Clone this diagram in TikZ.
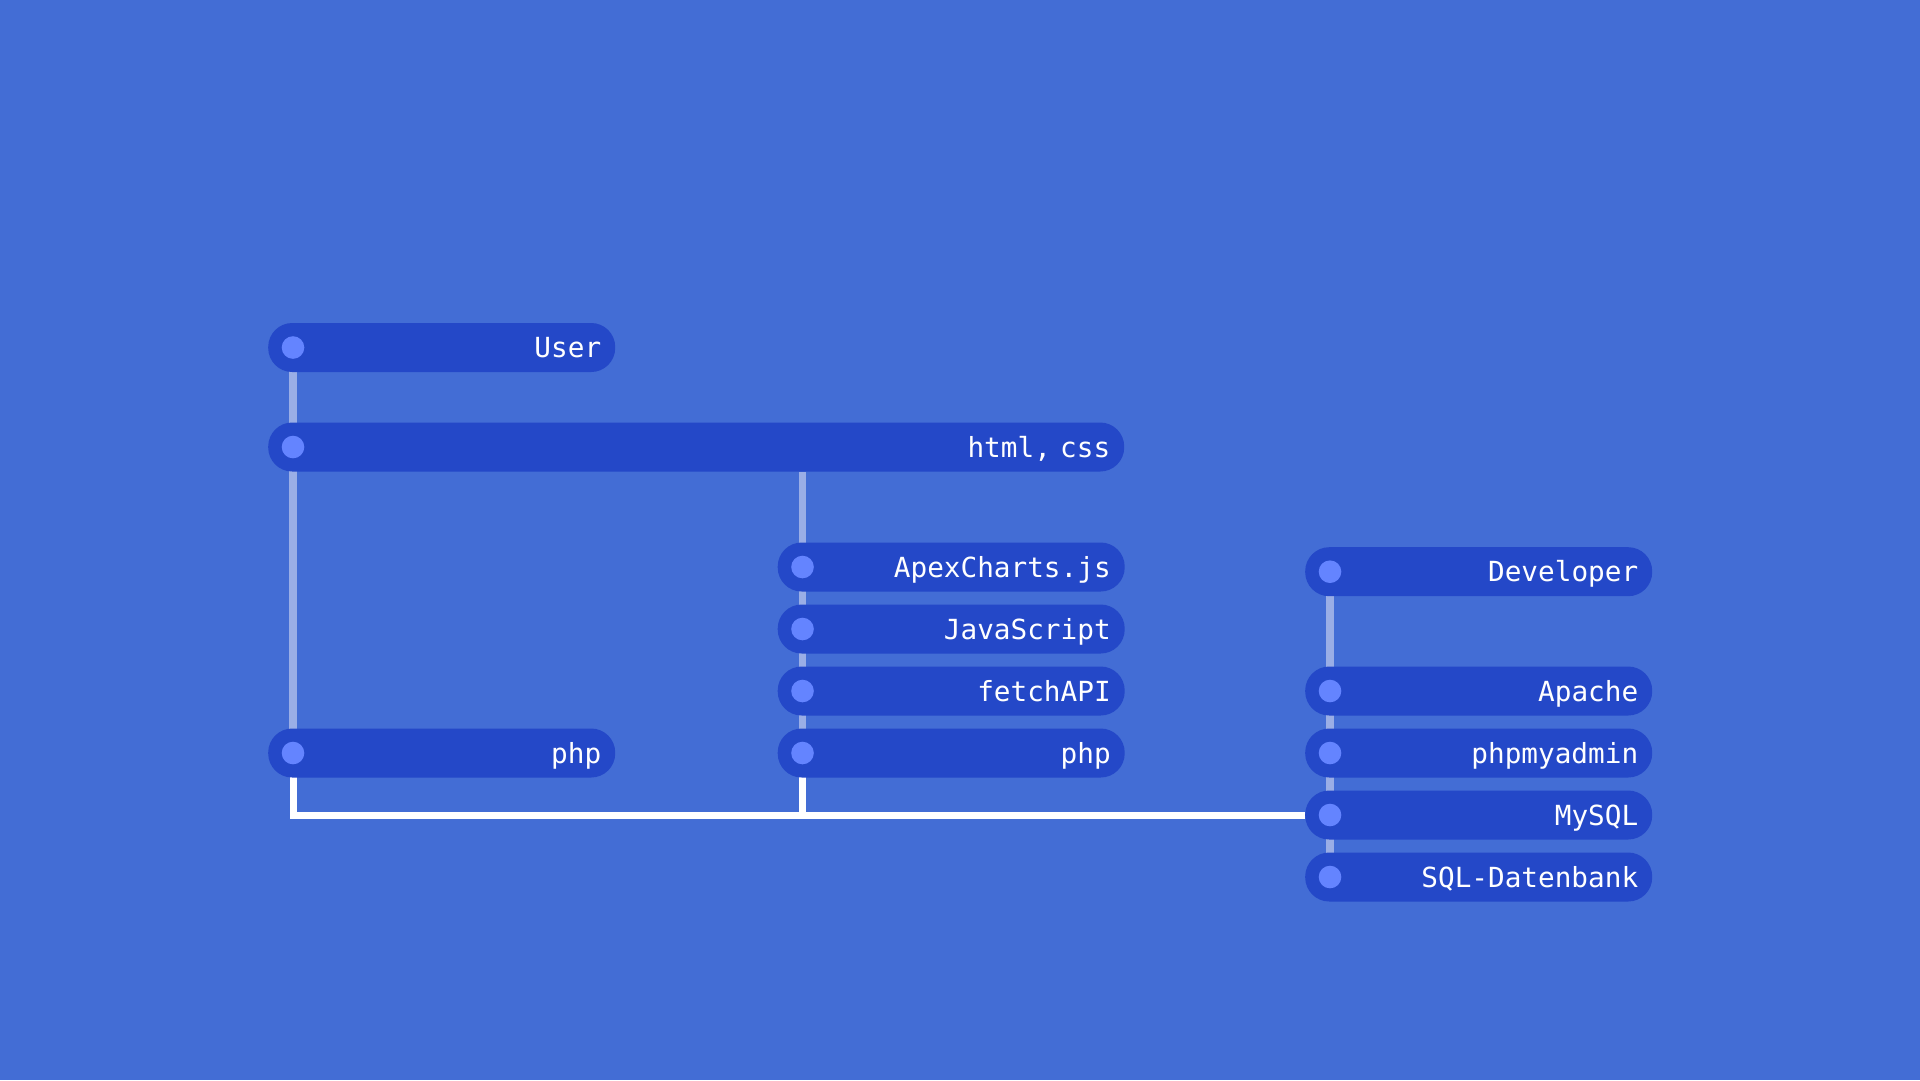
\documentclass[tikz,border=0pt]{standalone}
\usepackage{fontspec}
\setmonofont{DejaVu Sans Mono}
\usepackage{xcolor}
\usepackage{tikz}
\usetikzlibrary{positioning}

\definecolor{bgblue}{HTML}{436DD5}
\definecolor{pillblue}{HTML}{2448C8}
\definecolor{dotblue}{HTML}{6484FF}
\definecolor{lineblue}{HTML}{9AAEE6}

\pgfdeclarelayer{bg}
\pgfdeclarelayer{links}
\pgfsetlayers{bg,links,main}

\tikzset{
  pill/.style={rectangle, fill=pillblue, rounded corners=24pt, anchor=west,
    minimum height=49pt, inner xsep=14pt, inner ysep=0pt, align=right,
    text height=26pt, text depth=6pt, text=white,
    font=\ttfamily\fontsize{27.7}{33}\selectfont},
  shortpill/.style={pill, minimum width=347pt, text width=319pt},
  longpill/.style={pill, minimum width=856pt, text width=828pt},
  dot/.style={circle, fill=dotblue, minimum size=22.6pt, inner sep=0pt},
  trunk/.style={draw=lineblue, line width=7.5pt},
  wire/.style={draw=white, line width=7pt}
}

\begin{document}
\begin{tikzpicture}[x=1pt, y=-1pt]
\useasboundingbox (0,0) rectangle (1920,1080);
\begin{pgfonlayer}{bg}
\fill [bgblue] (0,0) rectangle (1920,1080);
\end{pgfonlayer}

% left column
\node [shortpill] (user) at (268,347.5) {User};
\node [longpill] (html) at (268,447) {html, css};
\node [shortpill] (php1) at (268,753) {php};

% middle column
\node [shortpill] (apex) at (777.5,567) {ApexCharts.js};
\node [shortpill] (js) at (777.5,629) {JavaScript};
\node [shortpill] (fetch) at (777.5,691) {fetchAPI};
\node [shortpill] (php2) at (777.5,753) {php};

% right column
\node [shortpill] (dev) at (1305,571.7) {Developer};
\node [shortpill] (apache) at (1305,691) {Apache};
\node [shortpill] (pma) at (1305,753) {phpmyadmin};
\node [shortpill] (mysql) at (1305,815) {MySQL};
\node [shortpill] (sqldb) at (1305,877) {SQL-Datenbank};

\foreach \n in {user,html,php1,apex,js,fetch,php2,dev,apache,pma,mysql,sqldb}
  \node [dot, right=13.5pt of \n.west] (\n-dot) {};

\begin{pgfonlayer}{links}
\draw [trunk] (user-dot) -- (php1-dot);
\draw [trunk] (html.south -| apex-dot) -- (php2-dot);
\draw [trunk] (dev-dot) -- (sqldb-dot);
\draw [wire] (php1-dot) |- (mysql.west);
\draw [wire] (php2-dot) -- (php2-dot |- mysql.west);
\end{pgfonlayer}
\end{tikzpicture}
\end{document}
